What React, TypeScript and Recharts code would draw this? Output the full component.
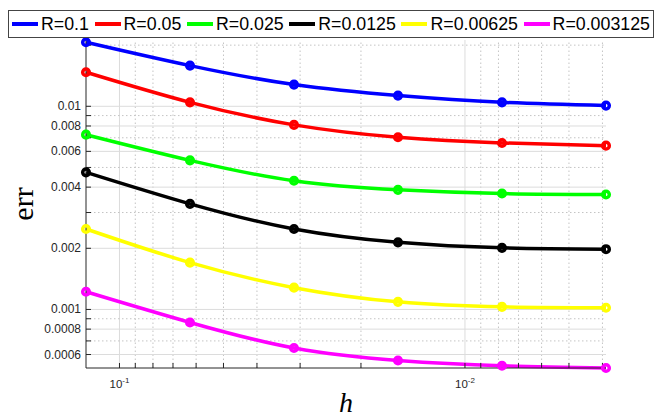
import React from 'react';
import { LineChart, Line, XAxis, YAxis, ReferenceLine } from 'recharts';

// step sizes (x) and errors per R (y)
const hValues = [0.125, 0.0625, 0.03125, 0.015625, 0.0078125, 0.00390625];

const seriesLabels = ['R=0.1', 'R=0.05', 'R=0.025', 'R=0.0125', 'R=0.00625', 'R=0.003125'];
const seriesColors = ['#0000ff', '#ff0000', '#00ff00', '#000000', '#ffff00', '#ff00ff'];

const errR0100 = [0.02067, 0.01586, 0.01279, 0.01129, 0.01046, 0.01008];
const errR0050 = [0.01471, 0.01046, 0.0081, 0.00704, 0.0066, 0.0064];
const errR0025 = [0.00725, 0.00542, 0.0043, 0.00388, 0.00372, 0.00368];
const errR0125 = [0.00473, 0.00331, 0.00249, 0.00214, 0.00201, 0.00198];
const errR00625 = [0.00249, 0.0017, 0.00128, 0.00109, 0.00103, 0.00102];
const errR003125 = [0.001222, 0.000863, 0.000646, 0.000561, 0.000528, 0.000515];

const seriesValues = [errR0100, errR0050, errR0025, errR0125, errR00625, errR003125];

const xTicks = [
  0.1, 0.09, 0.08, 0.07, 0.06, 0.05, 0.04, 0.03, 0.02,
  0.01, 0.009, 0.008, 0.007, 0.006, 0.005, 0.004,
];
const xLabeled = [0.1, 0.01];

const yTicks = [
  0.0006, 0.0007, 0.0008, 0.0009, 0.001, 0.002, 0.003, 0.004,
  0.005, 0.006, 0.007, 0.008, 0.009, 0.01, 0.02,
];
const yLabeled = [0.0006, 0.0008, 0.001, 0.002, 0.004, 0.006, 0.008, 0.01];

const xDomain = [0.00390625, 0.125];
const yDomain = [0.000515, 0.0212];

const data = hValues.map((h, i) => {
  const row: Record<string, number> = { h };
  seriesValues.forEach((vals, k) => {
    row[`s${k}`] = vals[i];
  });
  return row;
});

const AXIS = '#262626';
const SANS = '"Liberation Sans", Arial, Helvetica, sans-serif';
const SERIF = '"Liberation Serif", "Times New Roman", serif';

const XTick = (props: any) => {
  const { x, y, payload } = props;
  if (!xLabeled.includes(payload.value)) return <g />;
  const exp = Math.round(Math.log10(payload.value));
  return (
    <text x={x} y={y} textAnchor="middle" fontSize={11.5} fill={AXIS} fontFamily={SANS}>
      <tspan>10</tspan>
      <tspan dy={-5} fontSize={8}>{exp}</tspan>
    </text>
  );
};

const YTick = (props: any) => {
  const { x, y, payload } = props;
  if (!yLabeled.includes(payload.value)) return <g />;
  return (
    <text x={x} y={y} dy={4} textAnchor="end" fontSize={12} fill={AXIS} fontFamily={SANS}>
      {String(payload.value)}
    </text>
  );
};

const NoTick = () => <g />;

const YLabel = (props: any) => {
  const { viewBox } = props;
  const cx = viewBox.x + 33;
  const cy = viewBox.y + viewBox.height / 2;
  return (
    <text
      x={cx}
      y={cy}
      transform={`rotate(-90, ${cx}, ${cy})`}
      textAnchor="middle"
      fontSize={30}
      fontFamily={SERIF}
      fill="#000"
    >
      err
    </text>
  );
};

const XLabel = (props: any) => {
  const { viewBox } = props;
  return (
    <text
      x={viewBox.x + viewBox.width / 2}
      y={viewBox.y + 44}
      textAnchor="middle"
      fontSize={28}
      fontStyle="italic"
      fontFamily={SERIF}
      fill="#000"
    >
      h
    </text>
  );
};

const Legend = () => (
  <div
    style={{
      position: 'absolute',
      left: 8,
      top: 10,
      width: 646,
      height: 28,
      boxSizing: 'border-box',
      border: '1px solid #444',
      background: '#fff',
      display: 'flex',
      alignItems: 'center',
      justifyContent: 'space-between',
      padding: '0 3px',
      fontFamily: SANS,
      fontSize: 17.8,
      color: '#000',
    }}
  >
    {seriesLabels.map((name, k) => (
      <div key={name} style={{ display: 'flex', alignItems: 'center' }}>
        <span
          style={{
            display: 'inline-block',
            width: 26,
            height: 4,
            background: seriesColors[k],
            marginRight: 3,
          }}
        />
        <span style={{ lineHeight: '20px' }}>{name}</span>
      </div>
    ))}
  </div>
);

export default function App() {
  return (
    <div style={{ position: 'absolute', left: 0, top: 0, width: 655, height: 418, background: '#fff' }}>
      <LineChart
        width={655}
        height={418}
        data={data}
        margin={{ top: 40, right: 49, bottom: 0, left: 0 }}
      >
        <XAxis
          xAxisId="b"
          dataKey="h"
          type="number"
          scale="log"
          domain={xDomain}
          reversed
          ticks={xTicks}
          interval={0}
          height={50}
          tickSize={-5}
          tickMargin={25}
          tick={XTick}
          axisLine={{ stroke: AXIS }}
          tickLine={{ stroke: AXIS }}
          label={<XLabel />}
        />
        <XAxis
          xAxisId="t"
          orientation="top"
          dataKey="h"
          type="number"
          scale="log"
          domain={xDomain}
          reversed
          ticks={xTicks}
          interval={0}
          height={0}
          tickSize={-5}
          tick={NoTick}
          axisLine={{ stroke: AXIS }}
          tickLine={{ stroke: AXIS }}
        />
        <YAxis
          yAxisId="l"
          type="number"
          scale="log"
          domain={yDomain}
          ticks={yTicks}
          interval={0}
          width={86}
          tickSize={-5}
          tickMargin={10}
          tick={YTick}
          axisLine={{ stroke: AXIS }}
          tickLine={{ stroke: AXIS }}
          label={<YLabel />}
        />
        <YAxis
          yAxisId="r"
          orientation="right"
          type="number"
          scale="log"
          domain={yDomain}
          ticks={yTicks}
          interval={0}
          width={0}
          tickSize={-5}
          tick={NoTick}
          axisLine={{ stroke: AXIS }}
          tickLine={{ stroke: AXIS }}
        />

        {xTicks.map((v) => (
          <ReferenceLine
            key={`gx${v}`}
            xAxisId="b"
            yAxisId="l"
            x={v}
            zIndex={-100}
            stroke={xLabeled.includes(v) ? '#dcdcdc' : '#c4c4c4'}
            strokeWidth={1}
            strokeDasharray={xLabeled.includes(v) ? undefined : '1.5 2.5'}
          />
        ))}
        {yTicks.map((v) => (
          <ReferenceLine
            key={`gy${v}`}
            xAxisId="b"
            yAxisId="l"
            y={v}
            zIndex={-100}
            stroke={yLabeled.includes(v) ? '#dcdcdc' : '#c4c4c4'}
            strokeWidth={1}
            strokeDasharray={yLabeled.includes(v) ? undefined : '1.5 2.5'}
          />
        ))}

        {seriesLabels.map((name, k) => (
          <Line
            key={name}
            xAxisId="b"
            yAxisId="l"
            name={name}
            type="natural"
            dataKey={`s${k}`}
            stroke={seriesColors[k]}
            strokeWidth={3.5}
            dot={{ r: 3.3, stroke: seriesColors[k], strokeWidth: 3.5, fill: 'none' }}
            isAnimationActive={false}
          />
        ))}
      </LineChart>
      <Legend />
    </div>
  );
}
